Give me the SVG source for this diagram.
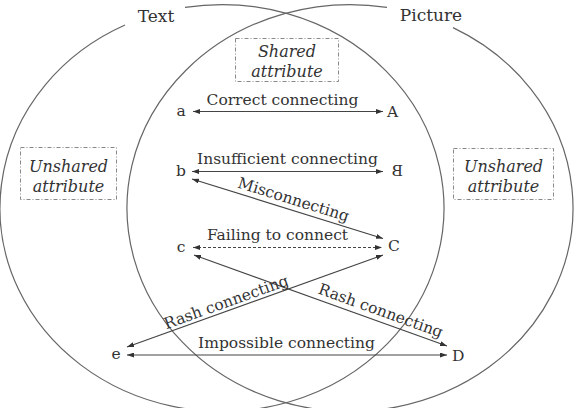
<svg xmlns="http://www.w3.org/2000/svg" width="578" height="408" viewBox="0 0 578 408">
<defs>
<style>
.set{fill:none;stroke:#666;stroke-width:1.2}
.box{fill:none;stroke:#888;stroke-width:1;stroke-dasharray:4 2 1 2}
.t{font-family:"DejaVu Serif","Liberation Serif",serif;font-size:15.5px;fill:#333}
.title{font-family:"DejaVu Serif","Liberation Serif",serif;font-size:17px;fill:#333}
.it{font-family:"DejaVu Serif","Liberation Serif",serif;font-size:16px;font-style:italic;fill:#333;text-anchor:middle}
.ln{fill:none;stroke:#444;stroke-width:1.2;marker-start:url(#ah);marker-end:url(#ah)}
.lbl{text-anchor:middle}
</style>
<marker id="ah" viewBox="0 0 7 5" refX="7" refY="2.5" markerWidth="7" markerHeight="5" markerUnits="userSpaceOnUse" orient="auto-start-reverse">
<path d="M0,0 L7,2.5 L0,5 z" fill="#333"/>
</marker>
</defs>
<rect width="578" height="408" fill="#fff"/>
<g id="set-text">
<path class="set" d="M185 7.45 A222 203.4 0 1 1 125 25.04"/>
<text class="title" x="156" y="22" text-anchor="middle">Text</text>
</g>
<g id="set-picture">
<path class="set" d="M453 27.6 A223 203.4 0 1 1 387 7.42"/>
<text class="title" x="431" y="21" text-anchor="middle">Picture</text>
</g>
<g id="shared-attribute">
<rect class="box" x="235.5" y="38.5" width="103" height="43"/>
<text class="it" x="287" y="57">Shared</text>
<text class="it" x="287" y="77">attribute</text>
</g>
<g id="unshared-left">
<rect class="box" x="20.5" y="147.5" width="96" height="52"/>
<text class="it" x="68.5" y="172">Unshared</text>
<text class="it" x="68.5" y="192">attribute</text>
</g>
<g id="unshared-right">
<rect class="box" x="453.5" y="148.5" width="100" height="51"/>
<text class="it" x="503.5" y="172">Unshared</text>
<text class="it" x="503.5" y="192">attribute</text>
</g>
<g id="node-a"><text class="t" x="181" y="115.5" text-anchor="middle">a</text></g>
<g id="node-b"><text class="t" x="181" y="176" text-anchor="middle">b</text></g>
<g id="node-c"><text class="t" x="181" y="252" text-anchor="middle">c</text></g>
<g id="node-e"><text class="t" x="116" y="359" text-anchor="middle">e</text></g>
<g id="node-A"><text class="t" x="387" y="117">A</text></g>
<g id="node-B"><text class="t" transform="translate(403 176) scale(-1 1)" x="0" y="0">B</text></g>
<g id="node-C"><text class="t" x="388" y="251">C</text></g>
<g id="node-D"><text class="t" x="452" y="360.5">D</text></g>
<g id="connectors">
<line class="ln" x1="193" y1="111.5" x2="383" y2="111.5"/>
<text class="t lbl" x="282.5" y="105">Correct connecting</text>
<line class="ln" x1="192" y1="171.5" x2="383" y2="171.5"/>
<text class="t lbl" x="287.5" y="164">Insufficient connecting</text>
<line class="ln" x1="192" y1="179" x2="383" y2="238.5"/>
<text class="t lbl" transform="translate(292 204.5) rotate(17.3)">Misconnecting</text>
<line class="ln" x1="193" y1="247.5" x2="382" y2="247.5" stroke-dasharray="3 2"/>
<text class="t lbl" x="277.5" y="240">Failing to connect</text>
<line class="ln" x1="194" y1="255" x2="447" y2="346"/>
<text class="t lbl" transform="translate(379 315.5) rotate(19.8)">Rash connecting</text>
<line class="ln" x1="127" y1="347" x2="383" y2="255"/>
<text class="t lbl" transform="translate(228 307) rotate(-19.8)">Rash connecting</text>
<line class="ln" x1="127" y1="355" x2="447" y2="355" stroke-width="2"/>
<text class="t lbl" x="286.5" y="348">Impossible connecting</text>
</g>
</svg>
